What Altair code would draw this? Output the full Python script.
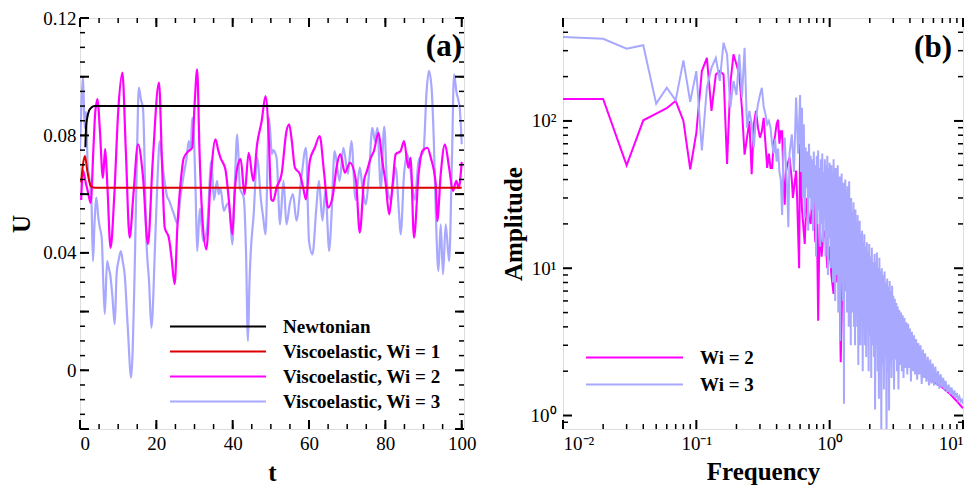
import altair as alt
import pandas as pd

FONT = "Liberation Serif"

# ---------------- panel (a) data: U(t) ----------------
NEWTONIAN = [(1.4, 0.076), (1.6, 0.083), (1.9, 0.086), (2.4, 0.0885), (3.0, 0.0895),
             (3.8, 0.090), (99.0, 0.090)]

WI1 = [(0.3, 0.064), (0.8, 0.0703), (1.3, 0.073), (1.9, 0.068), (2.5, 0.064),
       (3.0, 0.0625), (4.0, 0.0622), (100.0, 0.0622)]

WI2 = [(0.3, 0.058), (0.8, 0.068), (1.5, 0.064), (2.2, 0.060), (2.8, 0.057), (3.5, 0.075),
       (4.0, 0.088), (4.6, 0.0924), (5.2, 0.082), (6.0, 0.0655), (6.6, 0.0754), (7.2, 0.062),
       (8.0, 0.0417), (9.0, 0.060), (10.0, 0.088), (11.1, 0.1014), (12.0, 0.075), (13.0, 0.0452),
       (14.0, 0.060), (15.2, 0.077), (16.5, 0.066), (17.8, 0.043), (19.0, 0.070), (20.7, 0.098),
       (21.5, 0.070), (22.2, 0.0486), (23.3, 0.045), (24.0, 0.038), (24.8, 0.0294), (25.5, 0.0486),
       (26.4, 0.0645), (27.2, 0.0724), (28.3, 0.0745), (29.4, 0.0758), (30.0, 0.090), (30.7, 0.1025),
       (31.3, 0.075), (32.0, 0.0531), (33.1, 0.0412), (34.2, 0.0645), (35.5, 0.0787), (36.2, 0.075),
       (36.8, 0.0724), (38.1, 0.0684), (39.0, 0.058), (39.9, 0.0463), (40.5, 0.060), (41.2, 0.069),
       (42.1, 0.0719), (43.1, 0.060), (44.2, 0.0741), (45.4, 0.0645), (46.4, 0.077), (47.6, 0.0849),
       (48.6, 0.0934), (49.5, 0.078), (50.1, 0.0582), (50.6, 0.0577), (51.5, 0.0622), (52.8, 0.0668),
       (54.1, 0.0815), (54.8, 0.0838), (55.5, 0.078), (56.3, 0.069), (57.6, 0.0668), (58.5, 0.062),
       (59.2, 0.0582), (60.2, 0.0713), (61.5, 0.0758), (62.8, 0.0798), (63.9, 0.0679), (65.0, 0.0554),
       (66.3, 0.060), (67.2, 0.069), (68.2, 0.0736), (69.4, 0.0673), (70.7, 0.0707), (72.3, 0.0645),
       (73.3, 0.0469), (74.4, 0.0645), (75.2, 0.068), (76.2, 0.0724), (77.0, 0.0747), (78.2, 0.0809),
       (79.2, 0.0713), (80.1, 0.0635), (81.0, 0.0531), (81.9, 0.0634), (82.7, 0.0736), (84.0, 0.0747),
       (84.9, 0.0781), (86.0, 0.069), (86.6, 0.0724), (87.5, 0.0452), (88.7, 0.0668), (89.7, 0.0747),
       (91.0, 0.0758), (91.9, 0.0724), (93.2, 0.0634), (93.6, 0.0509), (94.5, 0.0668), (95.6, 0.077),
       (96.7, 0.069), (97.7, 0.0611), (98.6, 0.0645), (99.2, 0.062), (100.0, 0.071)]

WI3 = [(0.0, 0.075), (0.4, 0.092), (0.8, 0.100), (1.2, 0.0826), (1.6, 0.088), (2.0, 0.070),
       (2.5, 0.065), (3.0, 0.0577), (3.4, 0.0372), (3.8, 0.050), (4.3, 0.0588), (4.8, 0.052),
       (5.2, 0.0486), (5.7, 0.045), (6.1, 0.030), (6.5, 0.0192), (7.1, 0.0372), (7.5, 0.035),
       (7.9, 0.0327), (8.5, 0.025), (9.1, 0.0157), (9.6, 0.033), (10.2, 0.038), (10.7, 0.0406),
       (11.2, 0.037), (11.7, 0.0327), (12.5, 0.015), (13.4, -0.0025), (14.3, 0.0327), (15.0, 0.0781),
       (15.4, 0.0963), (16.0, 0.092), (16.5, 0.0894), (17.4, 0.044), (18.1, 0.030), (18.7, 0.0145),
       (19.7, 0.044), (20.3, 0.065), (20.9, 0.0781), (21.7, 0.069), (22.9, 0.0588), (23.3, 0.058),
       (24.1, 0.055), (24.6, 0.0532), (25.5, 0.050), (26.4, 0.060), (27.2, 0.0668), (27.9, 0.072),
       (28.5, 0.0781), (29.0, 0.075), (29.4, 0.086), (29.9, 0.078), (30.3, 0.060), (30.7, 0.0406),
       (31.4, 0.055), (31.8, 0.050), (32.3, 0.044), (33.3, 0.0486), (34.4, 0.0713), (35.1, 0.058),
       (35.9, 0.0645), (36.3, 0.060), (36.8, 0.062), (37.7, 0.0543), (38.3, 0.056), (39.0, 0.057),
       (39.9, 0.0429), (40.6, 0.065), (41.2, 0.0804), (41.9, 0.062), (42.9, 0.0588), (43.5, 0.040),
       (44.0, 0.010), (44.4, 0.030), (44.7, 0.0395), (45.5, 0.0531), (46.4, 0.0724), (47.4, 0.058),
       (48.0, 0.052), (48.6, 0.0463), (49.5, 0.086), (50.3, 0.0736), (50.6, 0.075), (51.5, 0.0724),
       (52.4, 0.0497), (53.3, 0.0645), (54.1, 0.0497), (55.0, 0.057), (55.8, 0.060), (56.7, 0.051),
       (58.0, 0.0656), (59.2, 0.0758), (60.0, 0.044), (60.9, 0.0395), (61.9, 0.055), (62.6, 0.0645),
       (63.5, 0.051), (64.3, 0.061), (65.3, 0.0406), (65.9, 0.053), (66.7, 0.0747), (68.0, 0.0645),
       (69.0, 0.0758), (70.2, 0.067), (71.1, 0.0781), (72.2, 0.058), (73.3, 0.069), (74.1, 0.061),
       (74.9, 0.0565), (75.7, 0.0668), (76.6, 0.0826), (77.3, 0.078), (77.9, 0.0826), (78.8, 0.062),
       (79.7, 0.083), (80.5, 0.062), (81.4, 0.058), (82.7, 0.069), (83.6, 0.053), (84.0, 0.0463),
       (84.9, 0.0668), (85.7, 0.0736), (86.6, 0.0679), (87.7, 0.058), (88.7, 0.0713), (90.0, 0.0747),
       (90.8, 0.0951), (91.4, 0.102), (92.1, 0.0963), (92.7, 0.078), (93.3, 0.0497), (93.9, 0.0338),
       (94.5, 0.0497), (95.1, 0.0327), (95.8, 0.0497), (96.7, 0.0372), (97.4, 0.069), (98.0, 0.1008),
       (98.6, 0.095), (99.5, 0.089), (100.0, 0.077)]

# ---------------- panel (b) data: amplitude spectrum ----------------
SPEC_WI2 = [(0.01, 141), (0.02, 141), (0.03, 50), (0.04, 101), (0.05, 112), (0.06, 122), (0.07, 137),
            (0.08, 100), (0.09, 47), (0.10, 83), (0.11, 218), (0.12, 268), (0.13, 117), (0.14, 207),
            (0.15, 218), (0.16, 207), (0.17, 51), (0.18, 180), (0.19, 283), (0.20, 242), (0.21, 207),
            (0.22, 120), (0.23, 59), (0.24, 77), (0.25, 100), (0.26, 43.5), (0.27, 95), (0.28, 117),
            (0.29, 90), (0.30, 77), (0.31, 85), (0.32, 105), (0.33, 70), (0.34, 48), (0.35, 60),
            (0.36, 48), (0.37, 48), (0.38, 70), (0.39, 80), (0.40, 95), (0.41, 102), (0.42, 70),
            (0.43, 85), (0.44, 85), (0.45, 40), (0.46, 27), (0.47, 45), (0.48, 50), (0.50, 56.5),
            (0.52, 40), (0.53, 30), (0.55, 40), (0.56, 46), (0.57, 30), (0.59, 10), (0.60, 70),
            (0.62, 25), (0.65, 14.6), (0.67, 30), (0.70, 22), (0.72, 20), (0.75, 35), (0.78, 15),
            (0.80, 25), (0.82, 4.4), (0.84, 20), (0.87, 12), (0.90, 18), (0.93, 16.2), (0.96, 10),
            (1.00, 14), (1.03, 9), (1.07, 6.7), (1.10, 12), (1.14, 8), (1.18, 10), (1.21, 2.3),
            (1.25, 9), (1.30, 7), (1.35, 10), (1.40, 6), (1.45, 9), (1.50, 9.1), (1.60, 6), (1.70, 7),
            (1.80, 5), (1.90, 4.6), (2.00, 6), (2.2, 5), (2.5, 4), (3.0, 3), (3.5, 2.6), (4.0, 2.3),
            (5.0, 1.9), (6.0, 1.7), (7.0, 1.55), (8.0, 1.4), (9.0, 1.25), (10.0, 1.12)]

SPEC_WI3 = [(0.01, 371), (0.02, 361), (0.03, 309), (0.04, 327), (0.05, 131), (0.06, 168), (0.07, 138),
            (0.08, 258), (0.09, 135), (0.10, 218), (0.11, 63), (0.12, 168), (0.13, 230), (0.14, 268),
            (0.15, 187), (0.16, 340), (0.17, 283), (0.18, 123), (0.19, 187), (0.20, 150), (0.21, 283),
            (0.22, 144), (0.23, 314), (0.24, 90), (0.25, 117), (0.26, 95), (0.27, 66), (0.28, 105),
            (0.29, 130), (0.30, 150), (0.31, 168), (0.32, 125), (0.33, 111), (0.34, 95), (0.35, 100),
            (0.36, 90), (0.37, 70), (0.38, 60), (0.39, 75), (0.40, 53), (0.41, 65), (0.42, 45),
            (0.43, 40), (0.44, 23), (0.45, 60), (0.46, 77), (0.47, 50), (0.48, 35), (0.49, 19),
            (0.50, 60), (0.52, 81), (0.54, 45), (0.56, 144), (0.58, 60), (0.60, 150),
            (0.61, 45), (0.62, 123), (0.63, 30), (0.64, 95), (0.65, 22), (0.66, 66), (0.67, 35),
            (0.68, 62), (0.69, 18), (0.70, 70), (0.71, 30), (0.72, 58), (0.73, 25), (0.74, 55),
            (0.75, 18), (0.76, 62), (0.77, 28), (0.78, 50), (0.79, 12), (0.80, 58), (0.81, 20),
            (0.82, 63), (0.83, 25), (0.84, 48), (0.85, 14), (0.86, 55), (0.87, 20), (0.88, 60),
            (0.89, 15), (0.90, 45), (0.91, 22), (0.92, 55), (0.93, 12), (0.94, 50), (0.95, 18),
            (0.96, 58), (0.97, 9), (0.98, 48), (0.99, 16), (1.00, 52), (1.02, 10), (1.03, 50),
            (1.04, 14), (1.05, 45), (1.06, 8), (1.07, 55), (1.08, 12), (1.09, 42), (1.10, 6),
            (1.11, 48), (1.12, 10), (1.13, 40), (1.14, 9), (1.15, 50), (1.16, 5), (1.17, 38),
            (1.18, 11), (1.19, 42), (1.20, 3.2), (1.21, 36), (1.22, 8), (1.23, 44), (1.24, 10),
            (1.25, 33), (1.26, 6), (1.27, 38), (1.28, 1.2), (1.29, 30), (1.30, 7), (1.31, 40),
            (1.32, 9), (1.34, 32), (1.35, 5), (1.36, 36), (1.37, 8), (1.38, 28), (1.39, 4),
            (1.40, 39), (1.42, 7), (1.43, 26), (1.44, 3), (1.45, 30), (1.47, 6), (1.48, 24),
            (1.49, 5), (1.51, 28), (1.52, 4), (1.53, 22), (1.55, 3), (1.56, 25), (1.58, 6),
            (1.59, 20), (1.61, 4), (1.62, 23), (1.64, 2.2), (1.65, 19), (1.67, 5), (1.68, 21),
            (1.70, 3), (1.71, 17), (1.73, 4.5), (1.75, 18), (1.77, 2), (1.78, 15), (1.80, 4),
            (1.82, 17), (1.84, 3), (1.86, 14), (1.88, 2.5), (1.90, 15), (1.92, 4), (1.94, 13),
            (1.96, 2), (1.98, 14.6), (2.00, 3.5), (2.03, 12), (2.05, 1.8), (2.07, 13.8), (2.10, 3),
            (2.12, 11), (2.15, 2.5), (2.17, 12.5), (2.19, 1.1), (2.22, 11), (2.24, 3), (2.26, 12.8),
            (2.29, 2), (2.31, 10), (2.34, 1.3), (2.36, 11.8), (2.39, 2.8), (2.41, 9.5), (2.44, 0.75),
            (2.46, 10), (2.49, 2.2), (2.52, 9), (2.55, 1.5), (2.58, 9.5), (2.61, 2.5), (2.64, 8),
            (2.67, 0.75), (2.70, 8.5), (2.73, 2), (2.76, 7.5), (2.79, 1.08), (2.82, 8.2), (2.85, 2.2),
            (2.88, 7), (2.91, 1.8), (2.94, 7.6), (2.97, 2.4), (3.00, 6.5), (3.04, 1.5), (3.08, 6.2),
            (3.12, 2.4), (3.16, 5.8), (3.20, 2), (3.24, 5.5), (3.28, 1.5), (3.33, 5.2), (3.38, 2.2),
            (3.43, 5), (3.48, 2), (3.53, 4.8), (3.58, 1.8), (3.64, 4.6), (3.70, 2.1), (3.76, 4.3),
            (3.82, 1.9), (3.88, 4.2), (3.94, 2.1), (4.00, 3.9), (4.07, 1.7), (4.14, 3.7), (4.21, 2.0),
            (4.29, 3.5), (4.37, 1.9), (4.45, 3.3), (4.53, 1.75), (4.62, 3.1), (4.71, 1.9), (4.80, 3.0),
            (4.90, 1.64), (5.00, 2.8), (5.10, 1.8), (5.20, 2.65), (5.32, 1.7), (5.44, 2.5), (5.56, 1.6),
            (5.68, 2.4), (5.80, 1.65), (5.93, 2.25), (6.06, 1.6), (6.20, 2.15), (6.35, 1.6), (6.50, 2.0),
            (6.65, 1.52), (6.80, 1.9), (6.95, 1.55), (7.10, 1.8), (7.25, 1.5), (7.40, 1.72), (7.60, 1.45),
            (7.80, 1.62), (8.00, 1.4), (8.20, 1.55), (8.40, 1.36), (8.60, 1.48), (8.80, 1.32), (9.00, 1.42),
            (9.20, 1.28), (9.40, 1.34), (9.60, 1.25), (9.80, 1.28), (10.0, 1.2)]

NAMES_A = ["Newtonian", "Viscoelastic, Wi = 1", "Viscoelastic, Wi = 2", "Viscoelastic, Wi = 3"]
COLORS_A = ["#000000", "#DD0000", "#FF00FF", "#A8A8FF"]
NAMES_B = ["Wi = 2", "Wi = 3"]
COLORS_B = ["#FF00FF", "#A8A8FF"]

T_MAJOR = [0, 20, 40, 60, 80, 100]
T_MINOR = [5 * i for i in range(21)]
U_MAJOR = [-0.02, 0, 0.02, 0.04, 0.06, 0.08, 0.1, 0.12]
U_LABELS = [0, 0.04, 0.08, 0.12]
U_MINOR = [round(-0.02 + 0.005 * i, 3) for i in range(29)]
F_MAJOR = [0.01, 0.1, 1, 10]
F_MINOR = [m * 10.0 ** e for e in (-2, -1, 0) for m in range(2, 10)]
A_MAJOR = [1, 10, 100]
A_MINOR = [0.9] + [m * 10.0 ** e for e in (0, 1) for m in range(2, 10)] + [200, 300, 400]

W_A, W_B, H = 384, 400, 411
MAJ, MIN = 9, 5


def frame(pairs, xname, yname, sname, label):
    return pd.DataFrame({xname: [p[0] for p in pairs], yname: [p[1] for p in pairs], sname: label})


def label_axis(orient, values, title, pad, tpad, **kw):
    return alt.Axis(orient=orient, values=values, ticks=False, domain=False, grid=False,
                    labelPadding=pad, labelFont=FONT, labelFontSize=19, labelColor="black",
                    title=title, titleFont=FONT, titleFontSize=25, titleFontWeight="bold",
                    titleColor="black", titlePadding=tpad, **kw)


def tick_layers(xvals_major, xvals_minor, yvals_major, yvals_minor, xs, ys, W):
    """Inward-pointing ticks on all four sides, positioned through the panel's scales."""
    out = []
    for vals, size, sw in ((xvals_major, MAJ, 2.0), (xvals_minor, MIN, 1.5)):
        d = pd.DataFrame({"v": vals})
        base = alt.Chart(d).mark_rule(color="black", strokeWidth=sw)
        out.append(base.encode(x=alt.X("v:Q", scale=xs, axis=None), y=alt.value(H), y2=alt.value(H - size)))
        out.append(base.encode(x=alt.X("v:Q", scale=xs, axis=None), y=alt.value(0), y2=alt.value(size)))
    for vals, size, sw in ((yvals_major, MAJ, 2.0), (yvals_minor, MIN, 1.5)):
        d = pd.DataFrame({"v": vals})
        base = alt.Chart(d).mark_rule(color="black", strokeWidth=sw)
        out.append(base.encode(y=alt.Y("v:Q", scale=ys, axis=None), x=alt.value(0), x2=alt.value(size)))
        out.append(base.encode(y=alt.Y("v:Q", scale=ys, axis=None), x=alt.value(W), x2=alt.value(W - size)))
    return out


# ---------------- panel (a) ----------------
xs_a = alt.Scale(domain=[0, 100.6], nice=False, zero=False)
ys_a = alt.Scale(domain=[-0.02, 0.12], nice=False, zero=False)
leg_a = alt.Legend(orient="none", legendX=89, legendY=296, title=None, symbolType="stroke",
                   symbolSize=9216, symbolStrokeWidth=2, labelFont=FONT, labelFontWeight="bold",
                   labelFontSize=19, labelOffset=16, clipHeight=25, rowPadding=0, padding=0,
                   labelColor="black", labelLimit=400)
col_a = alt.Color("series:N", scale=alt.Scale(domain=NAMES_A, range=COLORS_A), legend=leg_a)

xax_a = label_axis("bottom", T_MAJOR, "t", 5, 7, format="d")
yax_a = label_axis("left", U_LABELS, "U", 4, 0, format=".2~f", titleX=-46)

series_a = [(WI3, NAMES_A[3], 2.2), (WI2, NAMES_A[2], 2.2), (WI1, NAMES_A[1], 2.0), (NEWTONIAN, NAMES_A[0], 2.0)]
layers_a = []
for i, (pairs, name, sw) in enumerate(series_a):
    layers_a.append(
        alt.Chart(frame(pairs, "t", "U", "series", name)).mark_line(
            strokeWidth=sw, clip=True, interpolate="monotone").encode(
            x=alt.X("t:Q", scale=xs_a, axis=xax_a if i == 0 else None),
            y=alt.Y("U:Q", scale=ys_a, axis=yax_a if i == 0 else None),
            color=col_a,
        )
    )
lab_a = alt.Chart(pd.DataFrame({"lab": ["(a)"]})).mark_text(
    font=FONT, fontWeight="bold", fontSize=31, align="right", baseline="top", color="black"
).encode(x=alt.value(382), y=alt.value(14), text="lab:N")

panel_a = alt.layer(*layers_a, *tick_layers(T_MAJOR, T_MINOR, U_MAJOR, U_MINOR, xs_a, ys_a, W_A),
                    lab_a).resolve_axis(x="independent", y="independent").properties(width=W_A, height=H)

# ---------------- panel (b) ----------------
xs_b = alt.Scale(type="log", domain=[0.01, 10], nice=False)
ys_b = alt.Scale(type="log", domain=[0.81, 500], nice=False)
leg_b = alt.Legend(orient="none", legendX=22, legendY=326, title=None, symbolType="stroke",
                   symbolSize=9409, symbolStrokeWidth=2, labelFont=FONT, labelFontWeight="bold",
                   labelFontSize=19, labelOffset=16, clipHeight=27, rowPadding=0, padding=0,
                   labelColor="black")
col_b = alt.Color("wi:N", scale=alt.Scale(domain=NAMES_B, range=COLORS_B), legend=leg_b)

xlab = "datum.value == 0.01 ? '10⁻²' : datum.value == 0.1 ? '10⁻¹' : datum.value == 1 ? '10⁰' : '10¹'"
ylab = "datum.value == 1 ? '10⁰' : datum.value == 10 ? '10¹' : '10²'"
xax_b = label_axis("bottom", F_MAJOR, "Frequency", 5, 6, labelExpr=xlab)
yax_b = label_axis("left", A_MAJOR, "Amplitude", 7, 4, labelExpr=ylab)

series_b = [(SPEC_WI2, NAMES_B[0]), (SPEC_WI3, NAMES_B[1])]
layers_b = []
for i, (pairs, name) in enumerate(series_b):
    layers_b.append(
        alt.Chart(frame(pairs, "f", "A", "wi", name)).mark_line(strokeWidth=2.0, clip=True).encode(
            x=alt.X("f:Q", scale=xs_b, axis=xax_b if i == 0 else None),
            y=alt.Y("A:Q", scale=ys_b, axis=yax_b if i == 0 else None),
            color=col_b,
        )
    )
lab_b = alt.Chart(pd.DataFrame({"lab": ["(b)"]})).mark_text(
    font=FONT, fontWeight="bold", fontSize=31, align="right", baseline="top", color="black"
).encode(x=alt.value(389), y=alt.value(15), text="lab:N")

panel_b = alt.layer(*layers_b, *tick_layers(F_MAJOR, F_MINOR, A_MAJOR, A_MINOR, xs_b, ys_b, W_B),
                    lab_b).resolve_axis(x="independent", y="independent").properties(width=W_B, height=H)

chart = alt.hconcat(panel_a, panel_b, spacing=23).resolve_scale(color="independent").resolve_legend(
    color="independent").properties(padding={"left": 8, "top": 8, "right": 5, "bottom": 0}
).configure_view(stroke="black", strokeWidth=3).configure(background="white")

chart.save("out.html", embed_options={"renderer": "svg", "actions": False})
